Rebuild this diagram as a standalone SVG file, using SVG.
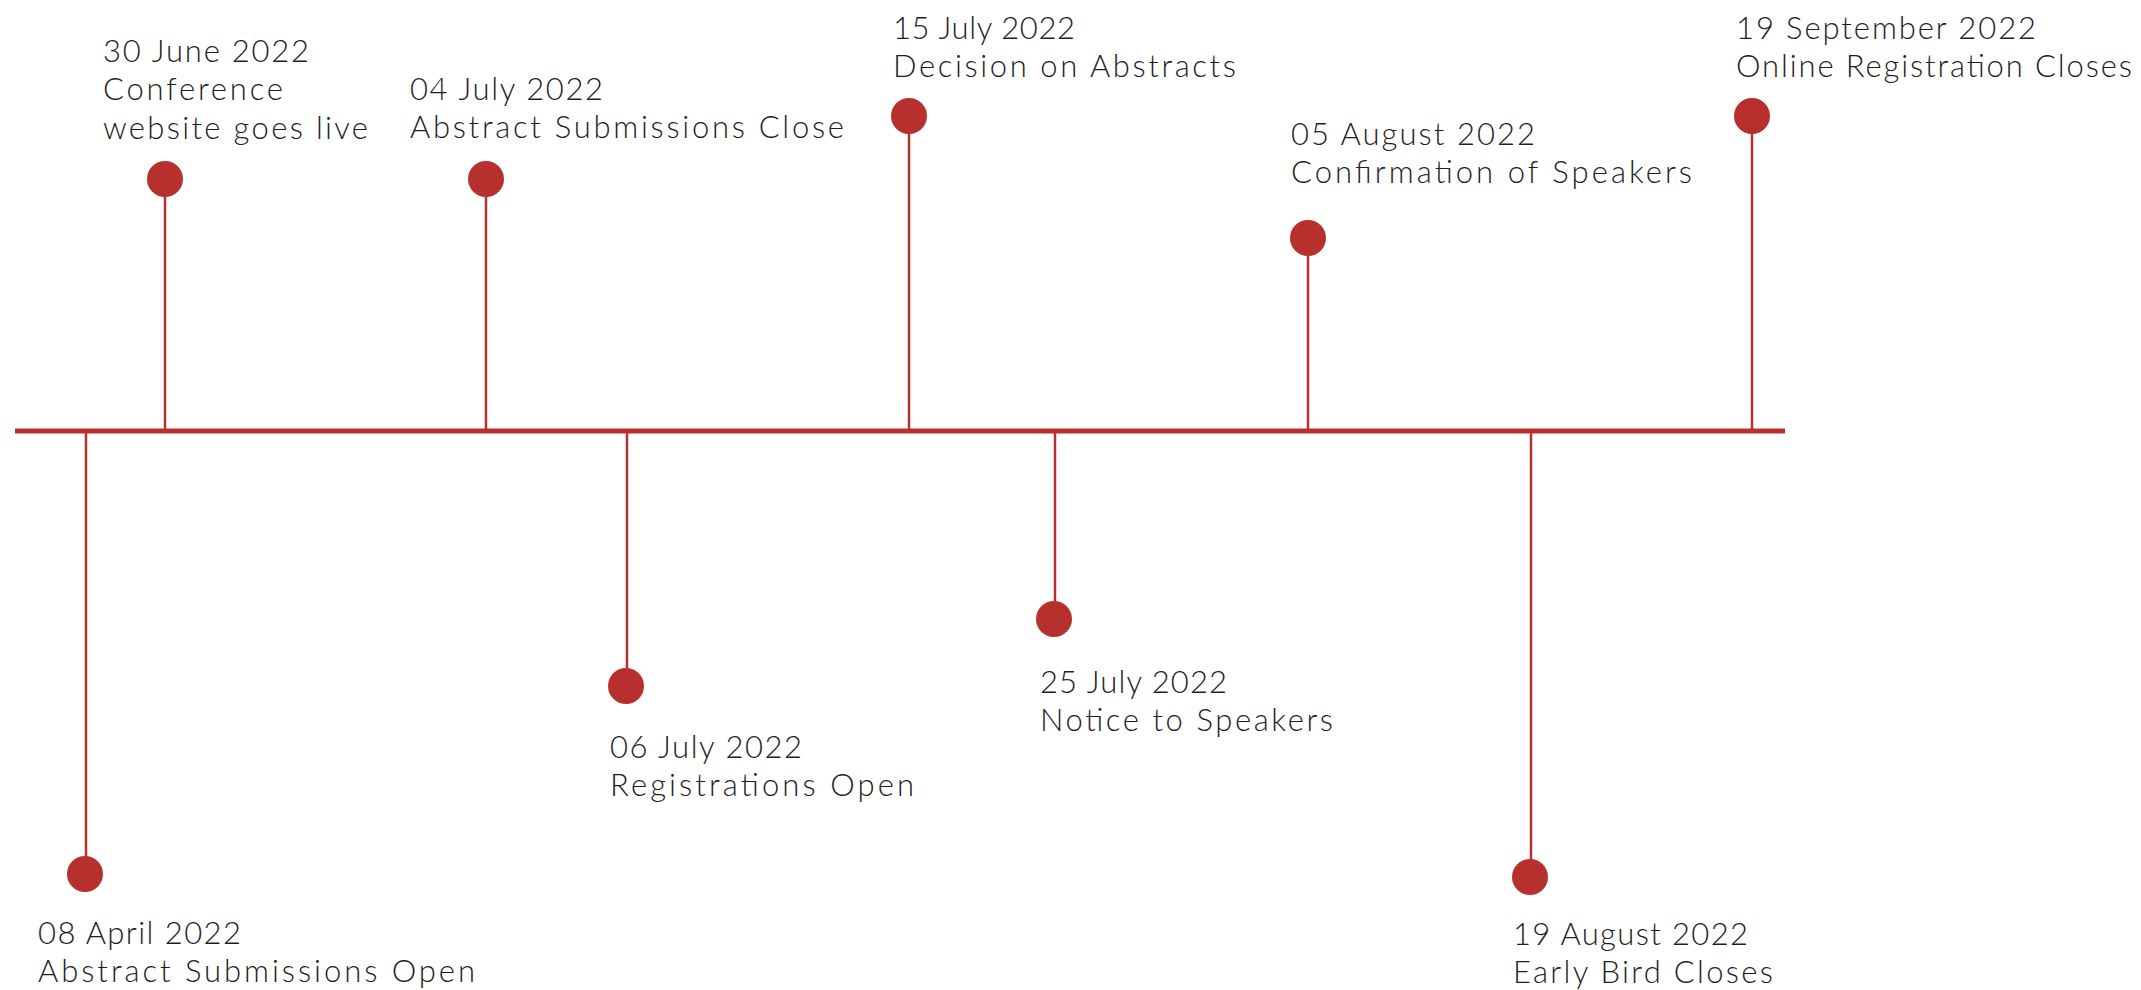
<svg xmlns="http://www.w3.org/2000/svg" width="2141" height="990" viewBox="0 0 2141 990">
<style>
.t{font-family:Lato,"Open Sans","Liberation Sans",sans-serif;font-weight:300;font-size:31px;fill:#1e1e1e}
.stem{stroke:#b8302e;stroke-width:2.5;fill:none}
.dot{fill:#b8302e}
</style>
<rect width="2141" height="990" fill="#fff"/>
<g id="connectors">
<line x1="15" y1="431" x2="1785" y2="431" stroke="#b8302e" stroke-width="5"/>
<line class="stem" x1="165" y1="179" x2="165" y2="431"/>
<line class="stem" x1="486" y1="179" x2="486" y2="431"/>
<line class="stem" x1="909" y1="116" x2="909" y2="431"/>
<line class="stem" x1="1308" y1="238" x2="1308" y2="431"/>
<line class="stem" x1="1752" y1="116" x2="1752" y2="431"/>
<line class="stem" x1="86" y1="431" x2="86" y2="874"/>
<line class="stem" x1="627" y1="431" x2="627" y2="686"/>
<line class="stem" x1="1055" y1="431" x2="1055" y2="619"/>
<line class="stem" x1="1531" y1="431" x2="1531" y2="877"/>
</g>
<g id="n-0408">
<circle class="dot" cx="85" cy="874" r="18"/>
<text class="t" x="38" y="944" textLength="203" lengthAdjust="spacing">08 April 2022</text>
<text class="t" x="38" y="982" textLength="437" lengthAdjust="spacing">Abstract Submissions Open</text>
</g>
<g id="n-0630">
<circle class="dot" cx="165" cy="179" r="18"/>
<text class="t" x="103" y="62" textLength="206" lengthAdjust="spacing">30 June 2022</text>
<text class="t" x="103" y="100" textLength="180" lengthAdjust="spacing">Conference</text>
<text class="t" x="103" y="139" textLength="265" lengthAdjust="spacing">website goes live</text>
</g>
<g id="n-0704">
<circle class="dot" cx="486" cy="179" r="18"/>
<text class="t" x="410" y="100" textLength="193" lengthAdjust="spacing">04 July 2022</text>
<text class="t" x="410" y="138" textLength="434" lengthAdjust="spacing">Abstract Submissions Close</text>
</g>
<g id="n-0706">
<circle class="dot" cx="626" cy="686" r="18"/>
<text class="t" x="610" y="758" textLength="192" lengthAdjust="spacing">06 July 2022</text>
<text class="t" x="610" y="796" textLength="304" lengthAdjust="spacing">Registrations Open</text>
</g>
<g id="n-0715">
<circle class="dot" cx="909" cy="116" r="18"/>
<text class="t" x="893" y="39" textLength="182" lengthAdjust="spacing">15 July 2022</text>
<text class="t" x="893" y="77" textLength="343" lengthAdjust="spacing">Decision on Abstracts</text>
</g>
<g id="n-0725">
<circle class="dot" cx="1054" cy="619" r="18"/>
<text class="t" x="1040" y="693" textLength="187" lengthAdjust="spacing">25 July 2022</text>
<text class="t" x="1040" y="731" textLength="293" lengthAdjust="spacing">Notice to Speakers</text>
</g>
<g id="n-0805">
<circle class="dot" cx="1308" cy="238" r="18"/>
<text class="t" x="1291" y="145" textLength="244" lengthAdjust="spacing">05 August 2022</text>
<text class="t" x="1291" y="183" textLength="401" lengthAdjust="spacing">Confirmation of Speakers</text>
</g>
<g id="n-0819">
<circle class="dot" cx="1530" cy="877" r="18"/>
<text class="t" x="1513" y="945" textLength="235" lengthAdjust="spacing">19 August 2022</text>
<text class="t" x="1513" y="983" textLength="260" lengthAdjust="spacing">Early Bird Closes</text>
</g>
<g id="n-0919">
<circle class="dot" cx="1752" cy="116" r="18"/>
<text class="t" x="1736" y="39" textLength="300" lengthAdjust="spacing">19 September 2022</text>
<text class="t" x="1736" y="77" textLength="396" lengthAdjust="spacing">Online Registration Closes</text>
</g>
</svg>
